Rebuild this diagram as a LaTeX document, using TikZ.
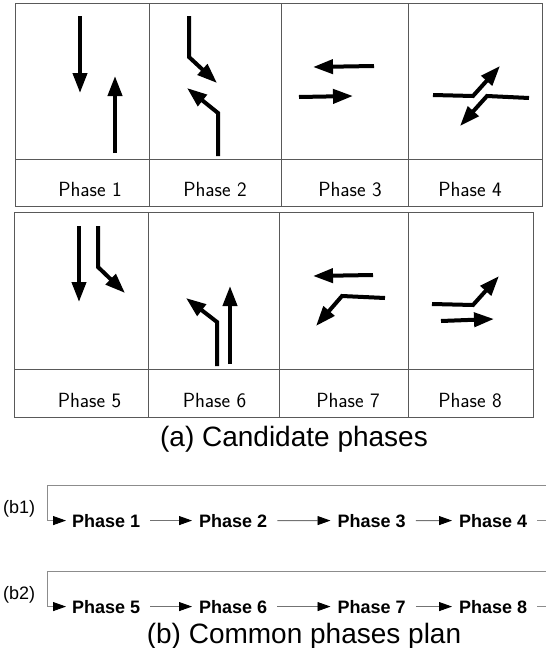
\documentclass[tikz,border=0pt]{standalone}
\usepackage{fontspec}
\newfontfamily\arial{Liberation Sans}
\usetikzlibrary{arrows.meta}
\tikzset{
  grid/.style={draw=black!65, line width=0.9pt},
  mv/.style={line width=4pt, -{Triangle[length=20pt,width=14pt]}},
  cell/.style={font=\fontsize{20.5}{23}\selectfont\sffamily, anchor=base, inner sep=0pt},
  plan/.style={font=\arial\bfseries\fontsize{18}{20}\selectfont, anchor=base west, inner sep=0pt},
  rowlab/.style={font=\arial\fontsize{18}{20}\selectfont, anchor=base west, inner sep=0pt},
  captext/.style={font=\arial\fontsize{28}{30}\selectfont, anchor=base, inner sep=0pt},
  conn/.style={draw=black!55, line width=0.9pt, shorten <=10pt, shorten >=7pt, -{Triangle[length=13pt,width=9pt,color=black]}},
  loopline/.style={draw=black!45, line width=0.9pt, -{Triangle[length=13pt,width=9pt,color=black]}}
}
\begin{document}
\begin{tikzpicture}[x=1pt,y=-1pt]
\useasboundingbox (0,0) rectangle (546,648);
\clip (0,0) rectangle (546,648);
% table (a) top
\draw[grid] (15,3) rectangle (542,206);
\draw[grid] (15,159) -- (542,159);
\foreach \x in {149,281,408} \draw[grid] (\x,3) -- (\x,206);
% table (a) bottom
\draw[grid] (14,212) rectangle (533,417);
\draw[grid] (14,369) -- (533,369);
\foreach \x in {148,279,408} \draw[grid] (\x,212) -- (\x,417);
% labels
\node[cell] (l1) at (90,196) {Phase 1};
\node[cell] (l2) at (215,196) {Phase 2};
\node[cell] (l3) at (350,196) {Phase 3};
\node[cell] (l4) at (470,196) {Phase 4};
\node[cell] (l5) at (89.5,407) {Phase 5};
\node[cell] (l6) at (214.5,407) {Phase 6};
\node[cell] (l7) at (348,407) {Phase 7};
\node[cell] (l8) at (470,407) {Phase 8};
% phase 1
\draw[mv] (80,16) -- (80,93);
\draw[mv] (115,153) -- (115,76);
% phase 2
\draw[mv] (189,16) -- (189,57) -- (217,83);
\draw[mv] (218,156) -- (218,113) -- (187,88);
% phase 3
\draw[mv] (374,66) -- (313,67);
\draw[mv] (299,97) -- (353,96);
% phase 4
\draw[mv] (433,95) -- (473,96) -- (500,66);
\draw[mv] (529,98) -- (487,96) -- (460,126);
% phase 5
\draw[mv] (79,226) -- (79,302);
\draw[mv] (98,226) -- (98,267) -- (125,293);
% phase 6
\draw[mv] (217,366) -- (217,322) -- (186,298);
\draw[mv] (230,364) -- (230,286);
% phase 7
\draw[mv] (373,275) -- (313,276);
\draw[mv] (385,298) -- (342,296) -- (316,326);
% phase 8
\draw[mv] (432,304) -- (473,305) -- (499,276);
\draw[mv] (441,321) -- (494,319);
% captions
\node[captext] (capa) at (294,446) {(a) Candidate phases};
\node[captext] (capb) at (304,643) {(b) Common phases plan};
% plan b1
\node[rowlab] (b1) at (3,513) {(b1)};
\node[plan] (p1) at (72,527) {Phase 1};
\node[plan] (p2) at (199,527) {Phase 2};
\node[plan] (p3) at (337.5,527) {Phase 3};
\node[plan] (p4) at (459,527) {Phase 4};
\draw[conn] (p1.east) -- (p2.west);
\draw[conn] (p2.east) -- (p3.west);
\draw[conn] (p3.east) -- (p4.west);
\coordinate (b1tl) at (47,485);
\coordinate (b1tr) at (570,485);
\draw[loopline] ([xshift=10pt]p4.east) -| (b1tr) -- (b1tl) |- ([xshift=-6pt]p1.west);
% plan b2
\node[rowlab] (b2) at (3,599) {(b2)};
\node[plan] (p5) at (72,613) {Phase 5};
\node[plan] (p6) at (199,613) {Phase 6};
\node[plan] (p7) at (337.5,613) {Phase 7};
\node[plan] (p8) at (459,613) {Phase 8};
\draw[conn] (p5.east) -- (p6.west);
\draw[conn] (p6.east) -- (p7.west);
\draw[conn] (p7.east) -- (p8.west);
\coordinate (b2tl) at (47,571);
\coordinate (b2tr) at (570,571);
\draw[loopline] ([xshift=10pt]p8.east) -| (b2tr) -- (b2tl) |- ([xshift=-6pt]p5.west);
\end{tikzpicture}
\end{document}
